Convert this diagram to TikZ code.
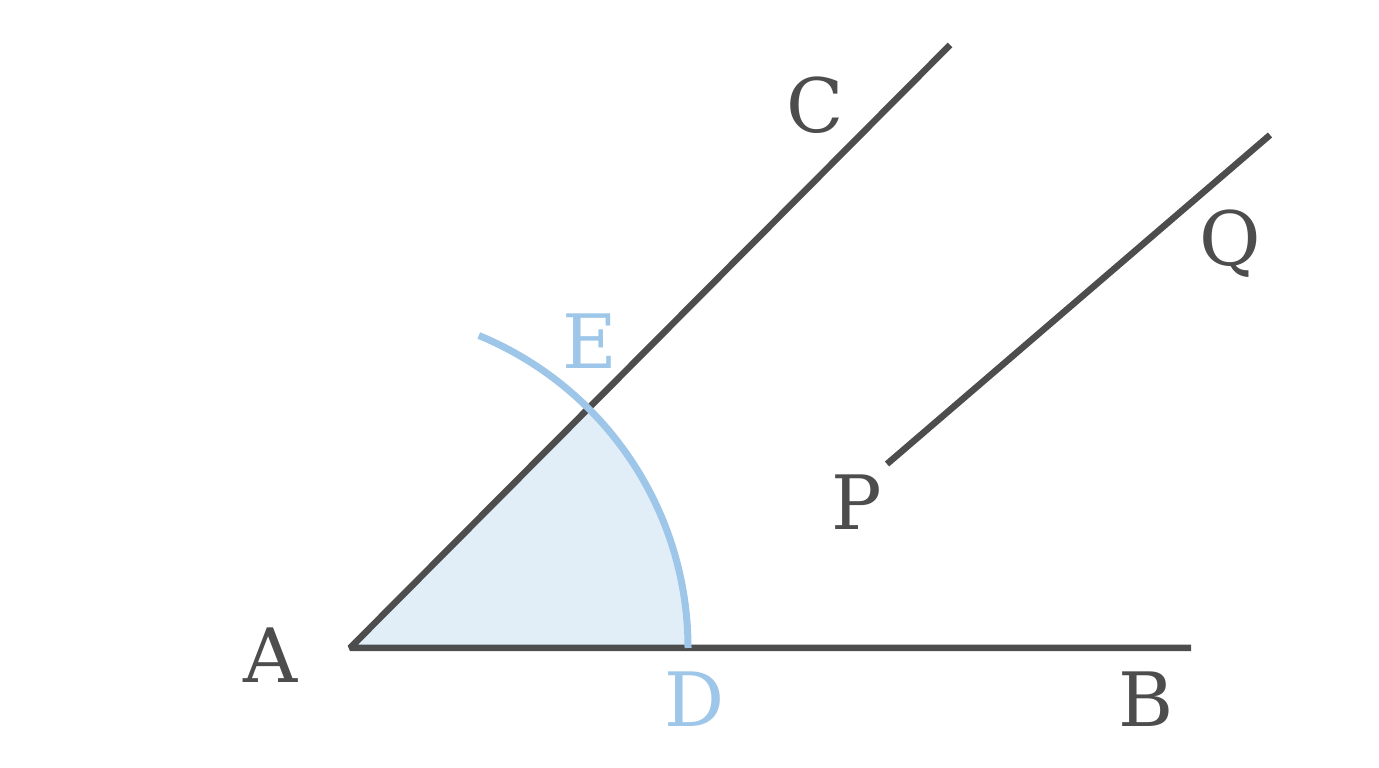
\documentclass[tikz,border=0pt]{standalone}
\usepackage{fontspec}
\setmainfont{DejaVu Serif}
\definecolor{ink}{HTML}{4D4D4D}
\definecolor{arcblue}{HTML}{9DC6E8}
\definecolor{fillblue}{HTML}{E1EEF8}
\begin{document}
\begin{tikzpicture}[x=1pt,y=1pt,
  seg/.style={draw=ink,line width=6.5pt},
  arcline/.style={draw=arcblue,line width=7pt},
  lbl/.style={anchor=base,inner sep=0pt,font=\fontsize{75}{80}\selectfont,text=ink},
  blbl/.style={lbl,text=arcblue}]
\useasboundingbox (0,0) rectangle (1379,768);
\coordinate (A) at (350,120);
\coordinate (B) at (1191,120);
\coordinate (C) at (950,723);
\coordinate (P) at (887,304);
\coordinate (Q) at (1270,633);
\coordinate (D) at (688,120);
\fill[fillblue] (A) -- (D) arc[start angle=0,end angle=45,radius=338] -- cycle;
\draw[seg,line join=bevel] (C) -- (A) -- (B);
\draw[seg] (P) -- (Q);
\draw[arcline] (D) arc[start angle=0,end angle=67.6,radius=338];
\node[lbl] (la) at (271,85) {A};
\node[lbl] (lb) at (1146,41) {B};
\node[lbl] (lc) at (815,635) {C};
\node[lbl] (lq) at (1230,502) {Q};
\node[lbl] (lp) at (857,238) {P};
\node[blbl] (le) at (590,399) {E};
\node[blbl] (ld) at (695,41) {D};
\end{tikzpicture}
\end{document}
